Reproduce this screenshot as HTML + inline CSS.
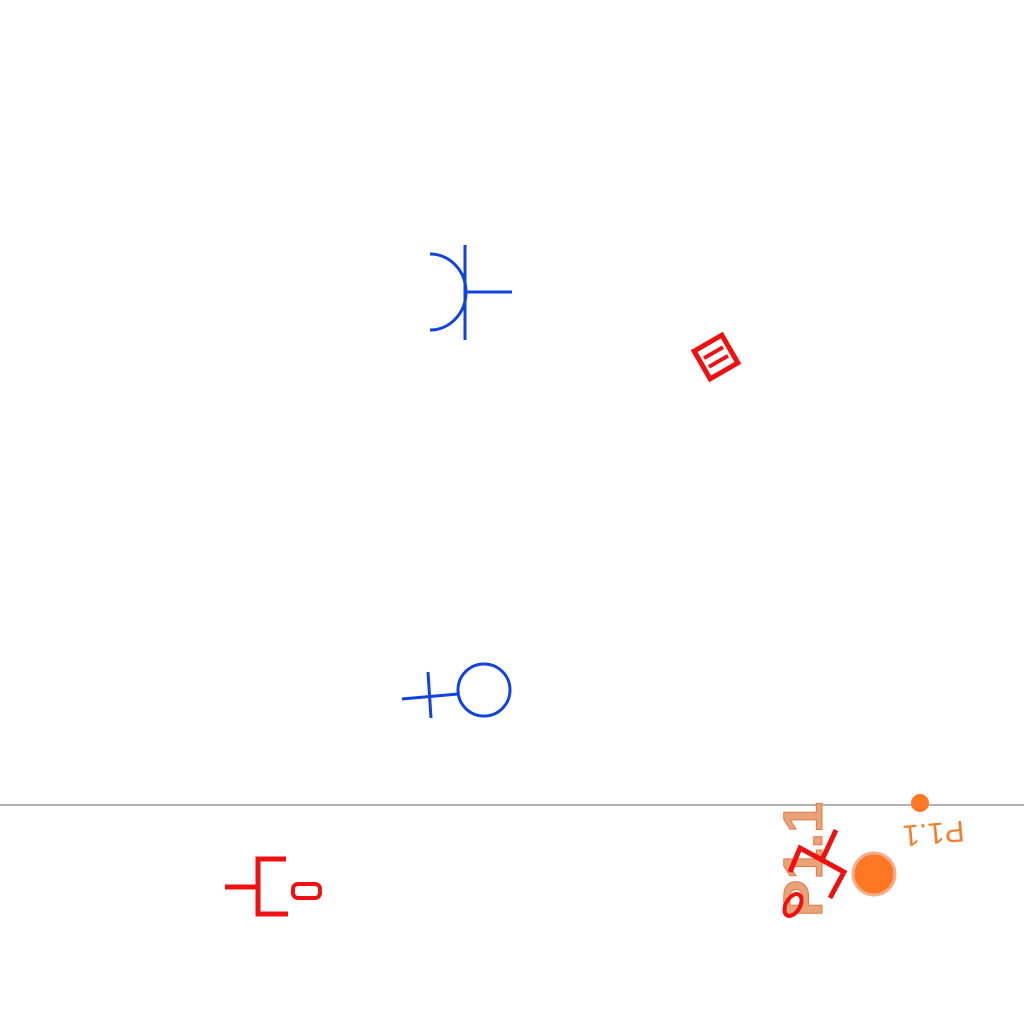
<!DOCTYPE html>
<html><head><meta charset="utf-8"><style>
html,body{margin:0;padding:0;background:#fff;width:1024px;height:1024px;overflow:hidden}
</style></head><body>
<svg width="1024" height="1024" viewBox="0 0 1024 1024">
<line x1="0" y1="805" x2="1024" y2="805" stroke="#999" stroke-width="1.5"/>
<g stroke="#1144dd" stroke-width="3" fill="none">
<path d="M430 254 A36 38 0 0 1 430 330"/>
<line x1="465" y1="245" x2="465" y2="340"/>
<line x1="465" y1="292" x2="512" y2="292"/>
</g>
<g stroke="#1144dd" stroke-width="3" fill="none">
<circle cx="484" cy="690" r="26"/>
<line x1="402" y1="699" x2="458" y2="694"/>
<line x1="428" y1="672" x2="431" y2="718"/>
</g>
<g transform="rotate(-30 716 357)">
<rect x="700" y="341" width="32" height="32" fill="none" stroke="#ee1111" stroke-width="5"/>
<line x1="705" y1="352" x2="727" y2="352" stroke="#ee1111" stroke-width="4"/>
<line x1="705" y1="362" x2="727" y2="362" stroke="#ee1111" stroke-width="4"/>
</g>
<g stroke="#ee1111" stroke-width="5" fill="none">
<polyline points="286,859 258,859 258,914 288,914"/>
<line x1="225" y1="887" x2="258" y2="887"/>
<rect x="293" y="884" width="27" height="14" rx="5" stroke-width="4"/>
</g>
<g>
<text x="0" y="0" transform="translate(822 917) rotate(-90)" font-family="Liberation Sans, sans-serif" font-weight="bold" font-size="56" fill="#e9a27a" stroke="#e07a40" stroke-width="1">P1.1</text>
<polyline points="836,830 822,860 800,848 790,872" stroke="#ee1111" stroke-width="5" fill="none"/>
<polyline points="822,860 844,872 830,898" stroke="#ee1111" stroke-width="5" fill="none"/>
<ellipse cx="793" cy="905" rx="7" ry="12" transform="rotate(30 793 905)" stroke="#ee1111" stroke-width="4" fill="none"/>
<circle cx="874" cy="874" r="21" fill="#ff7722" stroke="#f0b090" stroke-width="3"/>
<circle cx="920" cy="803" r="9" fill="#ff7722"/>
<text x="0" y="0" transform="translate(902 826) rotate(175)" font-family="Liberation Sans, sans-serif" font-size="30" fill="#f08030" text-anchor="end">P1.1</text>
</g>
</svg>
</body></html>
